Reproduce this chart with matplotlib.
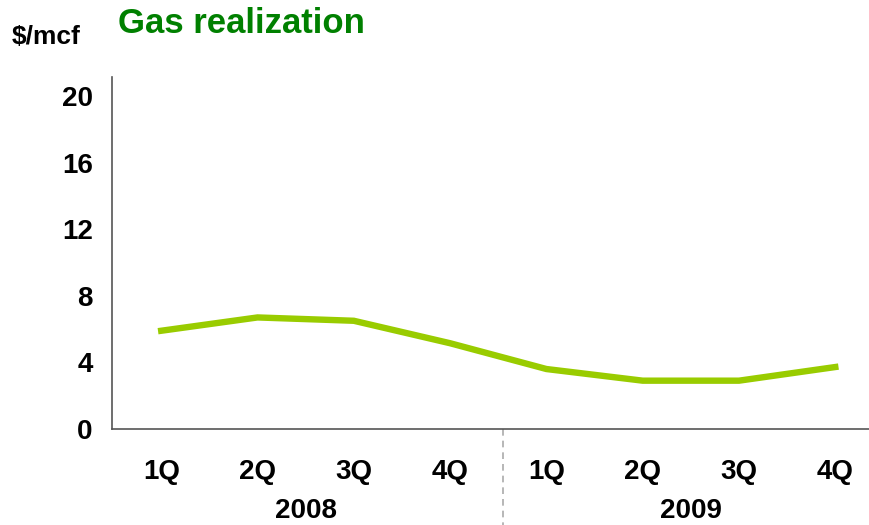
import matplotlib
matplotlib.use("Agg")
import matplotlib.pyplot as plt
import matplotlib.transforms as mtransforms

# datos del grafico
trimestres = ['1Q', '2Q', '3Q', '4Q', '1Q', '2Q', '3Q', '4Q']
anios = ['2008', '2009']
realizacion_gas = [5.9, 6.7, 6.5, 5.15, 3.6, 2.9, 2.9, 3.72]
ticks_y = [0, 4, 8, 12, 16, 20]

plt.rcParams['font.family'] = ['Liberation Sans', 'DejaVu Sans']

fig = plt.figure(figsize=(8.69, 5.25), dpi=100)
ax = fig.add_axes([0.129, 0.183, 0.871, 0.670])

x = list(range(len(trimestres)))
ax.plot(x, realizacion_gas, color='#99cc00', linewidth=4.6, solid_joinstyle='miter')

ax.set_xlim(-0.51, 7.35)
ax.set_ylim(0, 21.14)
ax.set_yticks(ticks_y)
ax.set_yticklabels([str(t) for t in ticks_y], fontsize=20, fontweight='bold')
ax.set_xticks(x)
ax.set_xticklabels(trimestres, fontsize=20, fontweight='bold')
ax.tick_params(axis='y', length=0, pad=14)
ax.tick_params(axis='x', length=0, pad=22)

for s in ['top', 'right']:
    ax.spines[s].set_visible(False)
for s in ['left', 'bottom']:
    ax.spines[s].set_color('#555555')
    ax.spines[s].set_linewidth(1.2)

# linea divisoria entre anios
trans = mtransforms.blended_transform_factory(ax.transData, ax.transAxes)
ax.plot([3.55, 3.55], [0, -0.28], transform=trans, color='#aaaaaa',
        linestyle=(0, (4, 3)), linewidth=1.2, clip_on=False)

# etiquetas de anio
for i, anio in enumerate(anios):
    ax.text(1.5 + 4 * i, -0.232, anio, transform=trans, ha='center', va='center',
            fontsize=20, fontweight='bold')

fig.text(0.014, 0.93, '\\$/mcf', fontsize=19, fontweight='bold', va='center', ha='left')
fig.text(0.136, 0.955, 'Gas realization', fontsize=25, fontweight='bold',
         color='#008000', va='center', ha='left')

fig.savefig('out.png', dpi=100)
